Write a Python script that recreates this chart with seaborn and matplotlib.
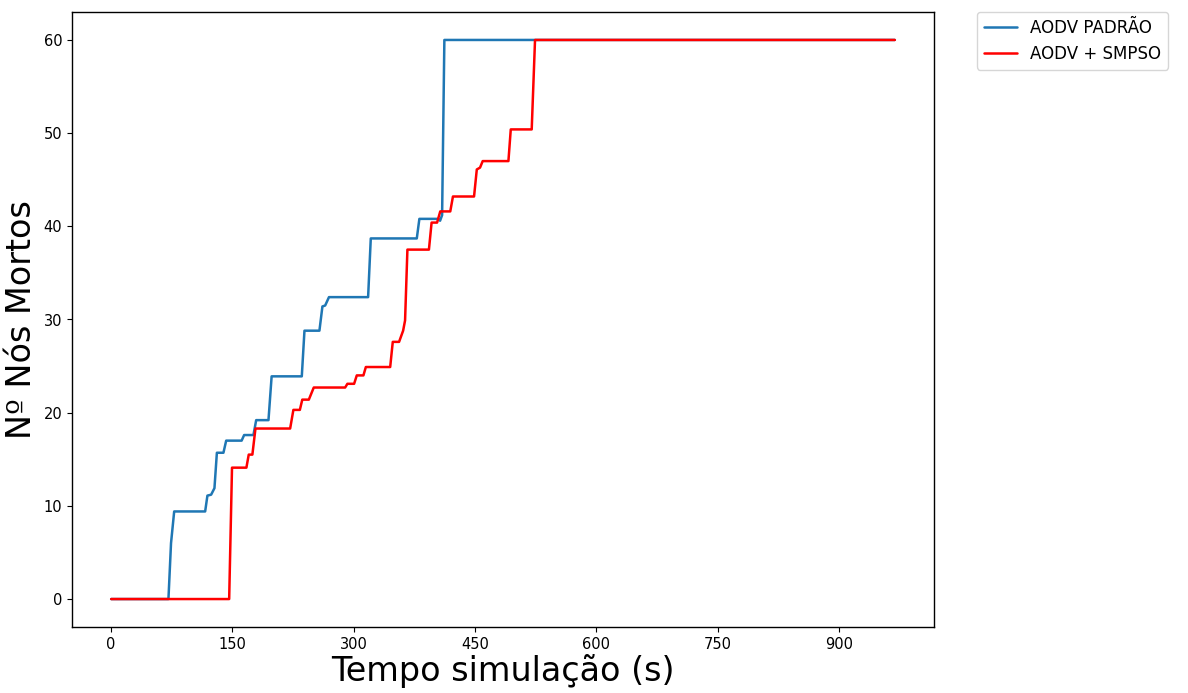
import pandas as pd
import matplotlib
matplotlib.use("Agg")
import matplotlib.pyplot as plt
import seaborn as sns

# --- data (time in s, dead nodes) ---
tempo_padrao = [0, 70.8, 74.0, 77.9, 116.2, 119.0, 123.6, 127.7, 130.7, 138.8,
                142.2, 161.3, 164.4, 175.9, 179.3, 194.5, 198.4, 235.7, 239.0,
                257.5, 261.2, 264.6, 269.3, 317.7, 321.0, 377.9, 381.1, 404.6,
                406.7, 409.2, 412.0, 969]
mortos_padrao = [0, 0, 6.0, 9.4, 9.4, 11.1, 11.2, 11.9, 15.7, 15.7,
                 17.0, 17.0, 17.6, 17.6, 19.2, 19.2, 23.9, 23.9, 28.8,
                 28.8, 31.4, 31.5, 32.4, 32.4, 38.7, 38.7, 40.8, 40.8,
                 40.6, 41.2, 60, 60]

tempo_smpso = [0, 145.9, 149.4, 167.2, 170.1, 174.6, 178.4, 221.3, 225.3, 233.3,
               236.3, 244.4, 250.5, 289.3, 292.1, 300.4, 303.7, 311.9, 314.9,
               345.0, 348.2, 356.0, 361.0, 363.4, 366.3, 392.9, 396.2, 403.0,
               406.9, 419.3, 422.6, 448.7, 452.1, 456.1, 459.4, 491.2, 494.1,
               520.0, 524.1, 969]
mortos_smpso = [0, 0, 14.1, 14.1, 15.5, 15.5, 18.3, 18.3, 20.3, 20.3,
                21.4, 21.4, 22.7, 22.7, 23.1, 23.1, 24.0, 24.0, 24.9,
                24.9, 27.6, 27.6, 28.8, 29.9, 37.5, 37.5, 40.4, 40.4,
                41.6, 41.6, 43.2, 43.2, 46.1, 46.3, 47.0, 47.0, 50.4,
                50.4, 60, 60]

x_ticks = [0, 150, 300, 450, 600, 750, 900]

sns.set_style("ticks", {"text.color": "black", "axes.labelcolor": "black",
                        "xtick.color": "black", "ytick.color": "black",
                        "axes.edgecolor": "black"})

fig = plt.figure(figsize=(11.88, 6.93), dpi=100)
ax = fig.add_axes([72 / 1188, 1 - 627 / 693, (934 - 72) / 1188, (627 - 12) / 693])

sns.lineplot(x=tempo_padrao, y=mortos_padrao, ax=ax, color="#1f77b4",
             linewidth=1.8, estimator=None, label="AODV PADRÃO")
sns.lineplot(x=tempo_smpso, y=mortos_smpso, ax=ax, color="red",
             linewidth=1.8, estimator=None, label="AODV + SMPSO")

ax.set_xticks(x_ticks)
ax.tick_params(labelsize=10.5)
ax.set_xlabel("Tempo simulação (s)", fontsize=24, labelpad=2)
ax.set_ylabel("Nº Nós Mortos", fontsize=24)
for s in ax.spines.values():
    s.set_linewidth(1.0)

ax.legend(bbox_to_anchor=(1.05, 1), loc="upper left", borderaxespad=0,
          fontsize=12)

fig.savefig("out.png", dpi=100)
